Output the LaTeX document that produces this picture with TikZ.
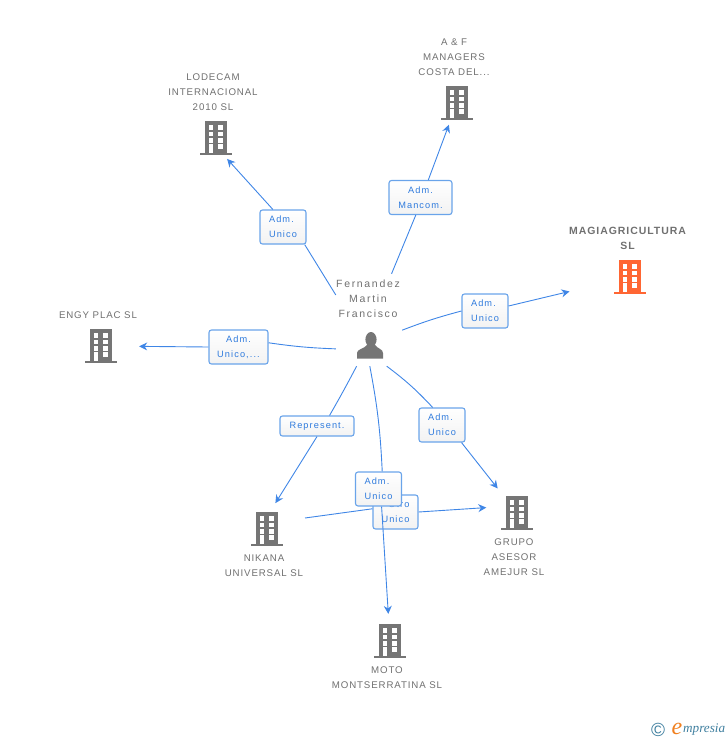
\documentclass[tikz,border=0pt]{standalone}
\usepackage{fontspec}
\setmainfont[LetterSpace=9]{Liberation Sans}
\newfontfamily\logofont{Liberation Serif}
\usetikzlibrary{arrows.meta}
\definecolor{linkblue}{HTML}{3F86E6}
\definecolor{boxblue}{HTML}{6AA4EA}
\definecolor{textblue}{HTML}{2F7BDD}
\definecolor{iconred}{HTML}{FF6633}
\definecolor{icongray}{HTML}{757575}
\definecolor{namegray}{HTML}{707070}
\definecolor{logoblue}{HTML}{3F7F9F}
\definecolor{logoorange}{HTML}{F08020}
\tikzset{
  role/.style={draw=boxblue,line width=1.1pt,rounded corners=2.5pt,top color=white,bottom color=black!5,
    text=textblue,font=\fontsize{9.2}{15}\selectfont\addfontfeature{LetterSpace=12},align=left,inner sep=0pt,minimum height=34pt},
  title/.style={text=namegray,font=\fontsize{9.7}{15}\selectfont,align=center,inner sep=0pt},
  tipgap/.style={circle,inner sep=0pt,minimum size=#1},
  link/.style={draw=linkblue,line width=0.9pt},
  arrowlink/.style={link,-{Stealth[length=8pt,width=8pt]}},
  building/.pic={
    \fill[#1] (-11,-17) rectangle (11,15);
    \fill[#1] (-16,15) rectangle (16,17);
    \fill[white] (-7.5,-13) rectangle (-2.6,-8);
    \fill[white] (2.4,-13) rectangle (7.4,-8);
    \fill[white] (-7.5,-6.3) rectangle (-2.6,-2);
    \fill[white] (2.4,-6.3) rectangle (7.4,-2);
    \fill[white] (-7.5,0.3) rectangle (-2.6,4.7);
    \fill[white] (2.4,0.3) rectangle (7.4,4.7);
    \fill[white] (-7.5,6.3) rectangle (-2.6,15);
    \fill[white] (2.4,6.3) rectangle (7.4,11.3);
  }
}
\begin{document}
\begin{tikzpicture}[x=1pt,y=-1pt]
\useasboundingbox (0,0) rectangle (728,740);
% companies
\node[tipgap=47pt] (lodecam) at (216,138) {};
\node[tipgap=46pt] (managers) at (457,103) {};
\node[tipgap=124pt] (magia) at (630,277) {};
\node[tipgap=76pt] (engy) at (101,346) {};
\node[tipgap=54pt] (nikana) at (267,529) {};
\node[tipgap=62pt] (grupo) at (517,513) {};
\node[tipgap=54pt] (moto) at (390,641) {};
\coordinate (nikanaout) at (305,518);
\draw (216,138) pic {building=icongray};
\draw (457,103) pic {building=icongray};
\draw (630,277) pic {building=iconred};
\draw (101,346) pic {building=icongray};
\draw (267,529) pic {building=icongray};
\draw (517,513) pic {building=icongray};
\draw (390,641) pic {building=icongray};
\node[title] (lodecamtext) at (213,92.5) {LODECAM\\INTERNACIONAL\\2010 SL};
\node[title] (managerstext) at (454,57.5) {A \& F\\MANAGERS\\COSTA DEL...};
\node[title,font=\fontsize{10.5}{15}\selectfont\bfseries] (magiatext) at (627.5,238.5) {MAGIAGRICULTURA\\SL};
\node[title] (engytext) at (98,315.5) {ENGY PLAC SL};
\node[title] (nikanatext) at (264,565.5) {NIKANA\\UNIVERSAL SL};
\node[title] (grupotext) at (514,557.5) {GRUPO\\ASESOR\\AMEJUR SL};
\node[title] (mototext) at (387,677.5) {MOTO\\MONTSERRATINA SL};
% person
\node[inner sep=0pt,minimum width=66pt,minimum height=92pt] (person) at (369,320) {};
\node[title,font=\fontsize{10.5}{15}\selectfont\addfontfeature{LetterSpace=16}] (persontext) at (368,298.5) {Fernandez\\Martin\\Francisco};
\fill[icongray] (371,339.5) ellipse (5.6 and 7.5);
\fill[icongray] (357,358.7) -- (357,353) .. controls (357,349) and (364,349) .. (367,345) -- (375,345)
  .. controls (378,349) and (383,349) .. (383,353) -- (383,358.7) -- cycle;
% role boxes
\node[role,minimum width=46pt] (boxlodecam) at (283,227) {Adm.\\Unico};
\node[role,minimum width=63pt,align=center] (boxmanagers) at (420.5,197.5) {Adm.\\Mancom.};
\node[role,minimum width=46pt] (boxmagia) at (485,311) {Adm.\\Unico};
\node[role,minimum width=59pt,align=center] (boxengy) at (238.5,347) {Adm.\\Unico,...};
\node[role,minimum width=74pt,minimum height=20pt] (boxnikana) at (317,426) {Represent.};
\node[role,minimum width=46pt] (boxgrupo) at (442,425) {Adm.\\Unico};
\node[role,minimum width=45pt,align=right] (boxother) at (395.5,512) {Otro\\Unico};
% connectors
\draw[link] (person.143) -- (boxlodecam.-39);
\draw[arrowlink] (boxlodecam.120) -- (lodecam.-62);
\draw[link] (person.64) -- (boxmanagers.-105);
\draw[arrowlink] (boxmanagers.66) -- (managers);
\draw[link] (person.343) to[bend left=3] (boxmagia.west);
\draw[arrowlink] (boxmagia.12) -- (magia);
\draw[link] (person.221) to[bend left=3] (boxengy.8);
\draw[arrowlink] (boxengy.west) -- (engy);
\draw[link] (person.255) to[bend left=1] (boxnikana.40);
\draw[arrowlink] (boxnikana.south) -- (nikana.72);
\draw[link] (person.291) to[bend left=5] (boxgrupo.118);
\draw[arrowlink] (boxgrupo.-42) -- (grupo);
\draw[link] (nikanaout) -- (boxother.172);
\draw[arrowlink] (boxother.east) -- (grupo.170);
\node[role,minimum width=46pt] (boxmoto) at (378.5,489) {Adm.\\Unico};
\draw[link] (person.271) to[bend left=4] (boxmoto.78);
\draw[arrowlink] (boxmoto.-80) -- (moto);
% logo
\node[inner sep=0pt,text=logoblue,font=\fontsize{19}{19}\selectfont] (copyrightmark) at (658,729.5) {©};
\node[inner sep=0pt,text=logoorange,font=\logofont\itshape\fontsize{24}{24}\selectfont] (logoe) at (677,728.5) {e};
\node[inner sep=0pt,anchor=west,text=logoblue,font=\logofont\itshape\fontsize{13.2}{13.2}\selectfont] (logotext) at (683,730) {mpresia};
\end{tikzpicture}
\end{document}
